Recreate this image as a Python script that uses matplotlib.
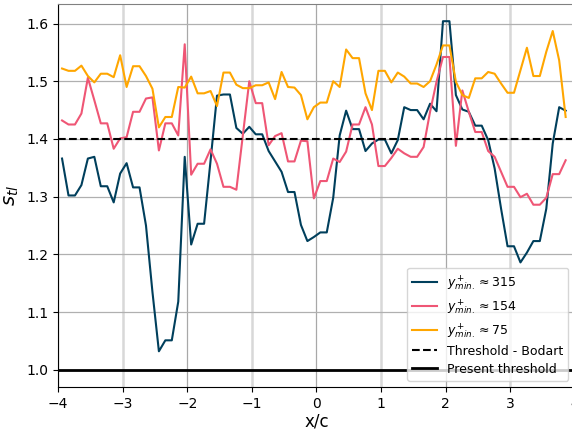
import numpy as np
import matplotlib.pyplot as plt

# stations x/c (regular sampling, 79 points)
x = np.round(-3.94 + 0.1 * np.arange(79), 2)

# y+ min ~ 315
s_315 = [1.366, 1.302, 1.302, 1.320, 1.366, 1.369, 1.318, 1.318, 1.290, 1.340,
         1.358, 1.316, 1.316, 1.250, 1.135, 1.032, 1.051, 1.051, 1.118, 1.369,
         1.217, 1.253, 1.253, 1.362, 1.475, 1.477, 1.477, 1.419, 1.409, 1.421,
         1.408, 1.408, 1.379, 1.361, 1.343, 1.308, 1.308, 1.251, 1.223, 1.230,
         1.238, 1.238, 1.298, 1.406, 1.449, 1.417, 1.417, 1.379, 1.392, 1.399,
         1.399, 1.375, 1.398, 1.455, 1.450, 1.450, 1.434, 1.461, 1.448, 1.604,
         1.604, 1.476, 1.451, 1.447, 1.423, 1.423, 1.398, 1.349, 1.279, 1.214,
         1.214, 1.186, 1.203, 1.223, 1.223, 1.279, 1.392, 1.455, 1.449]

# y+ min ~ 154
s_154 = [1.432, 1.425, 1.425, 1.444, 1.506, 1.467, 1.427, 1.427, 1.383, 1.401,
         1.403, 1.447, 1.447, 1.470, 1.472, 1.380, 1.427, 1.427, 1.406, 1.564,
         1.338, 1.357, 1.357, 1.382, 1.357, 1.317, 1.317, 1.312, 1.406, 1.500,
         1.462, 1.462, 1.389, 1.405, 1.410, 1.361, 1.361, 1.397, 1.396, 1.297,
         1.327, 1.327, 1.366, 1.360, 1.378, 1.425, 1.425, 1.455, 1.425, 1.353,
         1.353, 1.367, 1.383, 1.375, 1.369, 1.369, 1.386, 1.447, 1.499, 1.542,
         1.542, 1.388, 1.484, 1.447, 1.412, 1.412, 1.379, 1.369, 1.343, 1.317,
         1.317, 1.299, 1.305, 1.286, 1.286, 1.298, 1.339, 1.339, 1.363]

# y+ min ~ 75
s_75 = [1.522, 1.518, 1.518, 1.527, 1.509, 1.498, 1.513, 1.513, 1.507, 1.545,
        1.490, 1.526, 1.526, 1.509, 1.487, 1.420, 1.438, 1.438, 1.490, 1.489,
        1.508, 1.479, 1.479, 1.483, 1.457, 1.515, 1.515, 1.494, 1.488, 1.488,
        1.493, 1.493, 1.498, 1.469, 1.516, 1.490, 1.489, 1.476, 1.434, 1.455,
        1.463, 1.463, 1.500, 1.490, 1.555, 1.540, 1.540, 1.479, 1.450, 1.518,
        1.518, 1.498, 1.515, 1.508, 1.496, 1.496, 1.490, 1.500, 1.529, 1.562,
        1.562, 1.499, 1.476, 1.471, 1.505, 1.505, 1.516, 1.513, 1.496, 1.480,
        1.480, 1.519, 1.558, 1.509, 1.509, 1.551, 1.587, 1.536, 1.438]

thr_bodart = 1.4
thr_present = 1.0

fig = plt.figure(figsize=(5.72, 4.32), dpi=100)
ax = fig.add_axes([0.1017, 0.104, 0.903, 0.887])

# grid: horizontal all, vertical alternating style
ax.grid(axis="y", color="#b0b0b0", lw=0.9)
for t in range(-4, 5):
    if t % 2:
        ax.axvline(t, color="#d8d8d8", lw=1.8, zorder=0.5)
    else:
        ax.axvline(t, color="#a8a8a8", lw=0.9, zorder=0.5)

ax.plot(x, s_315, color="#003f5c", lw=1.5, label=r"$y^+_{min.}\approx 315$")
ax.plot(x, s_154, color="#ef5675", lw=1.5, label=r"$y^+_{min.}\approx 154$")
ax.plot(x, s_75, color="#ffa600", lw=1.5, label=r"$y^+_{min.}\approx 75$")
ax.axhline(thr_bodart, color="black", ls="--", lw=1.5, label="Threshold - Bodart")
ax.axhline(thr_present, color="black", ls="-", lw=2, label="Present threshold")

ax.set_xlim(-4, 4)
ax.set_ylim(0.97, 1.634)
ax.set_xticks(range(-4, 5))
ax.set_yticks([1.0, 1.1, 1.2, 1.3, 1.4, 1.5, 1.6])
ax.tick_params(labelsize=10)
ax.spines["top"].set_color("0.5")
ax.set_xlabel("x/c", fontsize=12, labelpad=1)
ax.set_ylabel(r"$s_{tl}$", fontsize=14)
ax.legend(loc="lower right", fontsize=9, labelspacing=0.4)

plt.savefig("out.png", dpi=100)
plt.close()
